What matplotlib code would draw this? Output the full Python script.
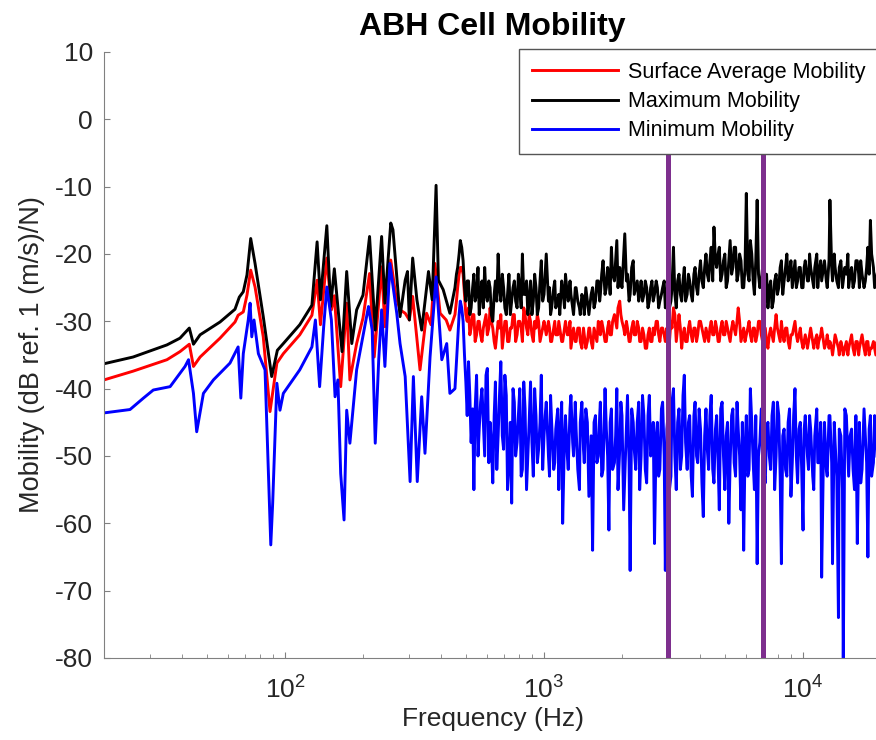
import matplotlib
matplotlib.use('Agg')
import matplotlib.pyplot as plt
import numpy as np

# values: frequency (Hz) and mobility (dB)

# low frequency part, smooth curves with the first modes
f_red_lo = [20, 25.9, 35.0, 39.3, 42.7, 44.3, 47.0, 56.1, 64.1, 65.9, 69.0, 71.3, 73.7, 76.6,
            82.4, 87.5, 93.0, 98.5, 114, 127, 133, 137, 145, 151, 155, 164, 173, 178, 189,
            200, 212, 221, 236, 243, 256, 268, 278, 291, 302, 311, 332, 352, 366, 379, 397,
            419, 433]
db_red_lo = [-38.7, -37.4, -35.7, -34.5, -33.4, -36.7, -35.3, -32.5, -30.1, -29.1, -28.6, -26.1,
             -22.4, -24.9, -32.3, -43.4, -36.2, -34.8, -32.0, -29.1, -23.9, -30.5, -20.6, -28.3,
             -26.2, -39.7, -27.3, -38.7, -33.3, -29.5, -22.9, -35.3, -21.9, -30.8, -20.9, -26.3,
             -28.3, -28.8, -29.8, -26.3, -37.2, -28.8, -30.5, -21.4, -28.8, -29.8, -31.3]

f_black_lo = [20, 25.9, 35.0, 39.3, 42.7, 44.3, 47.0, 56.1, 64.1, 66.6, 69.0, 71.3, 73.7, 76.6,
              82.4, 88.8, 93.4, 98.5, 114, 127, 133, 137, 145, 150, 155, 166, 173, 181, 189,
              200, 212, 223, 236, 243, 256, 261, 278, 291, 297, 302, 311, 323, 337, 358, 370,
              383, 391, 408, 433]
db_black_lo = [-36.3, -35.3, -33.5, -32.5, -31.0, -33.4, -32.0, -30.1, -28.2, -26.4, -25.6, -23.1,
               -17.7, -21.4, -29.3, -38.2, -34.3, -33.3, -30.5, -27.6, -18.2, -26.8, -15.8, -27.8,
               -22.2, -34.5, -22.6, -33.3, -28.3, -26.1, -17.4, -31.3, -17.4, -27.3, -15.4, -16.4,
               -29.3, -23.9, -22.6, -29.8, -20.6, -26.8, -31.3, -22.6, -26.8, -9.8, -23.9, -25.3,
               -28.8]

f_blue_lo = [20, 25.2, 28.4, 31.0, 36.0, 41.1, 42.4, 44.3, 45.6, 48.4, 52.9, 61.3, 65.9, 67.5,
             69.0, 72.1, 73.3, 74.4, 75.9, 78.9, 83.7, 87.0, 88.1, 89.6, 93.0, 95.6, 98.5, 114,
             127, 131, 136, 141, 145, 151, 156, 160, 164, 169, 173, 178, 189, 210, 217, 223,
             230, 236, 243, 254, 270, 278, 291, 304, 313, 324, 337, 347, 363, 383, 403, 421, 433]
db_blue_lo = [-43.6, -43.1, -41.4, -40.2, -39.7, -36.7, -35.7, -40.7, -46.4, -40.7, -38.7, -36.2,
              -33.8, -41.4, -34.8, -29.8, -27.3, -32.3, -29.8, -34.8, -37.2, -57.0, -63.2, -57.0,
              -39.2, -43.2, -40.7, -37.2, -33.8, -29.8, -39.7, -30.8, -24.9, -29.8, -41.2, -38.7,
              -52.6, -59.5, -43.2, -48.1, -37.2, -27.8, -31.3, -48.1, -35.7, -28.3, -36.7, -21.4,
              -28.8, -33.3, -38.2, -53.8, -38.2, -53.8, -41.2, -49.6, -35.3, -23.4, -35.7, -33.3,
              -40.7]

# high frequency part, noisy. two sets of frequency points
f_hi = [453, 464, 475, 487, 499, 511, 523, 536, 549, 562, 576, 590, 604, 619, 634, 649, 665,
        681, 698, 715, 732, 750, 768, 787, 806, 825, 845, 866, 887, 909, 931, 953, 976,
        1000, 1020, 1050, 1070, 1100, 1130, 1150, 1180, 1210, 1240,
        1270, 1300, 1330, 1370, 1400, 1430, 1470, 1500, 1540, 1580,
        1620, 1650, 1690, 1740, 1780, 1820, 1870, 1910, 1960, 2000,
        2050, 2100, 2150, 2210, 2260, 2320, 2370, 2430, 2490, 2550,
        2610, 2670, 2740, 2800, 2870, 2940, 3010, 3090, 3160, 3240,
        3320, 3400, 3480, 3570, 3650, 3740, 3830, 3920, 4020, 4120,
        4220, 4320, 4420, 4530, 4640, 4750, 4870, 4990, 5110, 5230,
        5360, 5490, 5620, 5760, 5900, 6040, 6190, 6340, 6490, 6650,
        6810, 6980, 7150, 7320, 7500, 7680, 7870, 8060, 8250, 8450,
        8660, 8870, 9090, 9310, 9530, 9760,
        10000, 10200, 10500, 10700, 11000, 11300, 11500, 11800, 12100, 12400,
        12700, 13000, 13300, 13700, 14000, 14300, 14700, 15000, 15400, 15800,
        16200, 16500, 16900, 17400, 17800, 18200, 18700, 19100, 19600]

f_mid = [459, 470, 481, 493, 505, 517, 530, 542, 556, 569, 583, 597, 612, 626, 642, 657, 673,
         690, 706, 723, 741, 759, 777, 796, 816, 835, 856, 876, 898, 920, 942, 965, 988,
         1010, 1040, 1060, 1090, 1110, 1140, 1170, 1200, 1230, 1260,
         1290, 1320, 1350, 1380, 1420, 1450, 1490, 1520, 1560, 1600,
         1640, 1670, 1720, 1760, 1800, 1840, 1890, 1930, 1980, 2030,
         2080, 2130, 2180, 2230, 2290, 2340, 2400, 2460, 2520, 2580,
         2640, 2710, 2770, 2840, 2910, 2980, 3050, 3120, 3200, 3280,
         3360, 3440, 3520, 3610, 3700, 3790, 3880, 3970, 4070, 4170,
         4270, 4370, 4480, 4590, 4700, 4810, 4930, 5050, 5170, 5300,
         5420, 5560, 5690, 5830, 5970, 6120, 6260, 6420, 6570, 6730,
         6900, 7060, 7230, 7410, 7590, 7770, 7960, 8160, 8350, 8560,
         8760, 8980, 9200, 9420, 9650, 9880,
         10100, 10400, 10600, 10900, 11100, 11400, 11700, 12000, 12300, 12600,
         12900, 13200, 13500, 13800, 14200, 14500, 14900, 15200, 15600, 16000,
         16400, 16700, 17200, 17600, 18000, 18400, 18900, 19300]

db_black_hi = [-25, -22, -18, -21, -27, -24, -28, -23, -26, -29, -24, -22, -27, -25, -30, -24, -20,
               -27, -25, -29, -23, -27, -24, -28, -25, -20, -26, -29, -24, -27, -25, -28, -21,
               -26, -20, -25, -28, -24, -27, -29, -25, -23, -27,
               -26, -29, -25, -28, -26, -29, -27, -28, -25, -27,
               -24, -26, -21, -25, -23, -19, -24, -18, -22, -25,
               -17, -23, -26, -21, -25, -27, -24, -26, -25, -27,
               -24, -26, -25, -27, -25, -28, -24, -27, -19, -28,
               -23, -27, -22, -26, -24, -27, -22, -26, -21, -25,
               -20, -24, -19, -16, -22, -19, -23, -20, -24, -18,
               -22, -19, -23, -21, -25, -11, -24, -20, -26, -12,
               -25, -22, -27, -28, -24, -27, -23, -25, -21, -24,
               -20, -23, -25, -21, -24, -22,
               -25, -21, -24, -22, -25, -20, -23, -24, -21, -25,
               -12, -24, -22, -25, -21, -24, -23, -25, -22, -24,
               -21, -25, -23, -24, -19, -15, -22, -24, -21]
db_black_mid = [-23, -20, -19, -25, -24, -29, -25, -27, -22, -26, -28, -26, -24, -29, -26, -27, -25,
                -23, -28, -26, -29, -25, -27, -23, -28, -26, -24, -27, -29, -23, -29, -24, -27,
                -23, -27, -29, -25, -28, -26, -24, -28, -26, -24,
                -28, -25, -27, -29, -27, -25, -29, -26, -28, -24,
                -27, -23, -26, -22, -26, -23, -21, -25, -24, -20,
                -24, -27, -22, -26, -24, -26, -27, -24, -28, -25,
                -27, -24, -28, -26, -24, -26, -28, -25, -26, -24,
                -26, -24, -27, -23, -26, -23, -25, -23, -24, -22,
                -23, -21, -24, -21, -20, -24, -21, -25, -21, -23,
                -19, -24, -20, -25, -22, -23, -18, -24, -21, -23,
                -24, -26, -23, -25, -28, -24, -26, -22, -26, -22,
                -24, -21, -23, -25, -22, -25,
                -22, -24, -20, -24, -22, -25, -21, -22, -24, -21,
                -22, -20, -24, -22, -25, -22, -20, -23, -25, -21,
                -23, -21, -25, -22, -23, -20, -25, -23]

db_red_hi = [-29, -25, -22, -23, -29, -28, -31, -29, -32, -30, -33, -30, -32, -28, -31, -34, -30,
             -29, -32, -30, -33, -31, -29, -32, -30, -33, -29, -32, -30, -33, -31, -30, -32,
             -30, -32, -31, -33, -30, -32, -31, -33, -30, -32,
             -34, -31, -33, -31, -34, -32, -33, -31, -34, -32,
             -30, -32, -31, -33, -30, -32, -29, -31, -27, -30,
             -32, -31, -33, -30, -32, -31, -33, -32, -34, -31,
             -33, -32, -30, -33, -31, -33, -32, -30, -28, -33,
             -29, -34, -31, -33, -30, -33, -31, -32, -30, -32,
             -31, -33, -30, -32, -31, -33, -30, -32, -31, -33,
             -30, -32, -28, -33, -31, -32, -30, -33, -31, -32,
             -30, -33, -31, -34, -31, -33, -29, -32, -30, -33,
             -31, -34, -32, -30, -33, -31,
             -34, -32, -33, -31, -34, -32, -33, -31, -34, -32,
             -33, -35, -32, -34, -33, -35, -33, -34, -32, -35,
             -33, -34, -32, -35, -33, -34, -33, -35, -34]
db_red_mid = [-27, -23, -22, -26, -30, -32, -29, -33, -30, -32, -31, -29, -31, -30, -33, -32, -31,
              -34, -30, -33, -31, -29, -33, -30, -31, -28, -31, -29, -32, -30, -29, -33, -31,
              -31, -30, -33, -31, -32, -30, -33, -31, -32, -30,
              -32, -33, -31, -33, -31, -34, -31, -33, -31, -33,
              -31, -30, -33, -31, -32, -30, -30, -28, -29, -31,
              -30, -33, -31, -32, -30, -33, -31, -34, -32, -33,
              -31, -30, -32, -31, -32, -31, -33, -31, -29, -31,
              -31, -32, -33, -31, -32, -31, -33, -30, -31, -33,
              -32, -31, -32, -30, -33, -31, -32, -30, -32, -31,
              -31, -30, -30, -32, -33, -31, -32, -31, -33, -30,
              -32, -31, -33, -32, -32, -31, -31, -33, -32, -31,
              -33, -32, -31, -32, -32, -33,
              -33, -34, -32, -33, -33, -34, -32, -33, -33, -34,
              -34, -33, -33, -35, -34, -34, -35, -33, -34, -33,
              -35, -33, -34, -33, -35, -34, -34, -33]

db_blue_hi = [-40, -33, -27, -30, -39, -36, -48, -55, -38, -46, -40, -50, -37, -45, -54, -39, -47,
              -36, -49, -41, -51, -57, -42, -48, -40, -52, -43, -50, -39, -53, -44, -49, -38,
              -47, -42, -53, -45, -51, -43, -49, -60, -44, -52,
              -41, -50, -46, -55, -42, -51, -45, -53, -64, -44,
              -50, -42, -52, -46, -61, -43, -51, -40, -49, -44,
              -53, -41, -67, -45, -52, -42, -50, -44, -54, -41,
              -49, -63, -45, -52, -42, -67, -44, -53, -40, -55,
              -43, -50, -38, -52, -44, -56, -42, -51, -46, -59,
              -43, -52, -41, -54, -44, -58, -42, -55, -45, -51,
              -43, -53, -46, -58, -64, -44, -52, -45, -55, -66,
              -48, -43, -54, -45, -52, -42, -50, -44, -66, -46,
              -53, -43, -51, -40, -54, -45,
              -61, -44, -52, -46, -55, -43, -51, -68, -45, -53,
              -44, -66, -48, -74, -47, -82, -44, -53, -46, -55,
              -63, -45, -52, -47, -65, -44, -51, -46, -53]
db_blue_mid = [-36, -29, -28, -35, -44, -41, -43, -43, -50, -42, -45, -38, -51, -48, -44, -52, -41,
               -47, -38, -55, -45, -40, -50, -44, -53, -39, -55, -45, -48, -40, -51, -45, -52,
               -44, -50, -41, -52, -46, -55, -42, -47, -50, -43,
               -48, -42, -52, -45, -49, -43, -56, -47, -45, -51,
               -44, -53, -40, -50, -45, -52, -47, -55, -42, -58,
               -46, -51, -43, -49, -45, -55, -41, -52, -44, -50,
               -45, -47, -53, -43, -50, -46, -55, -42, -50, -45,
               -52, -41, -48, -45, -53, -44, -50, -43, -54, -47,
               -49, -44, -52, -46, -51, -43, -50, -47, -60, -44,
               -51, -42, -50, -45, -49, -53, -40, -51, -44, -50,
               -43, -52, -46, -50, -44, -55, -42, -53, -47, -52,
               -45, -56, -44, -50, -46, -52,
               -46, -50, -44, -53, -47, -51, -45, -49, -52, -44,
               -51, -45, -53, -46, -55, -43, -50, -47, -52, -44,
               -49, -54, -43, -51, -46, -53, -44, -50]

band_edges = [3000, 7000]


def full_series( f_lo, db_lo, db_hi, db_mid):
    f = np.concatenate( [f_lo, f_hi, f_mid])
    db = np.concatenate( [db_lo, db_hi, db_mid])
    order = np.argsort( f)
    return f[order], db[order]


plt.rcParams['font.family'] = ['Liberation Sans', 'DejaVu Sans']
plt.rcParams['axes.unicode_minus'] = False

fig = plt.figure( figsize=(8.76, 7.4), dpi=100)
ax = fig.add_axes( [104/876., 82/740., 777/876., 606/740.])

lw = 2.1
f, db = full_series( f_red_lo, db_red_lo, db_red_hi, db_red_mid)
ax.plot( f, db, color='#ff0000', lw=lw, label='Surface Average Mobility')
f, db = full_series( f_black_lo, db_black_lo, db_black_hi, db_black_mid)
ax.plot( f, db, color='black', lw=lw, label='Maximum Mobility')
f, db = full_series( f_blue_lo, db_blue_lo, db_blue_hi, db_blue_mid)
ax.plot( f, db, color='#0000ff', lw=lw, label='Minimum Mobility')

for fe in band_edges:
    ax.axvline( fe, color='#7e2f8e', lw=3.6, zorder=5)

ax.set_xscale( 'log')
ax.set_xlim( 20, 20000)
ax.set_ylim( -80, 10)
ax.set_yticks( np.arange( -80, 11, 10))

gray = '#262626'
for side in ['top', 'right']:
    ax.spines[side].set_visible( False)
for side in ['left', 'bottom']:
    ax.spines[side].set_color( '#808080')

ax.tick_params( which='major', direction='in', length=4.5, colors='#808080',
                labelcolor=gray, labelsize=19)
ax.tick_params( axis='y', pad=8)
ax.tick_params( axis='x', pad=13)
ax.tick_params( which='minor', direction='in', length=3, colors='#808080')

ax.set_xlabel( 'Frequency (Hz)', fontsize=19, color=gray, labelpad=3)
ax.set_ylabel( 'Mobility (dB ref. 1 (m/s)/N)', fontsize=19.5, color=gray, labelpad=7)
ax.set_title( 'ABH Cell Mobility', fontsize=23, fontweight='bold', pad=12)

leg = ax.legend( loc='upper right', bbox_to_anchor=(0.997, 1.005), fontsize=15.5,
                 handlelength=4.0, handletextpad=0.47, borderpad=0.6, labelspacing=0.38,
                 fancybox=False, framealpha=1, borderaxespad=0)
leg.get_frame().set_edgecolor( '#555555')
leg.get_frame().set_linewidth( 1.0)
leg.set_zorder( 10)

fig.savefig( 'out.png', dpi=100)
